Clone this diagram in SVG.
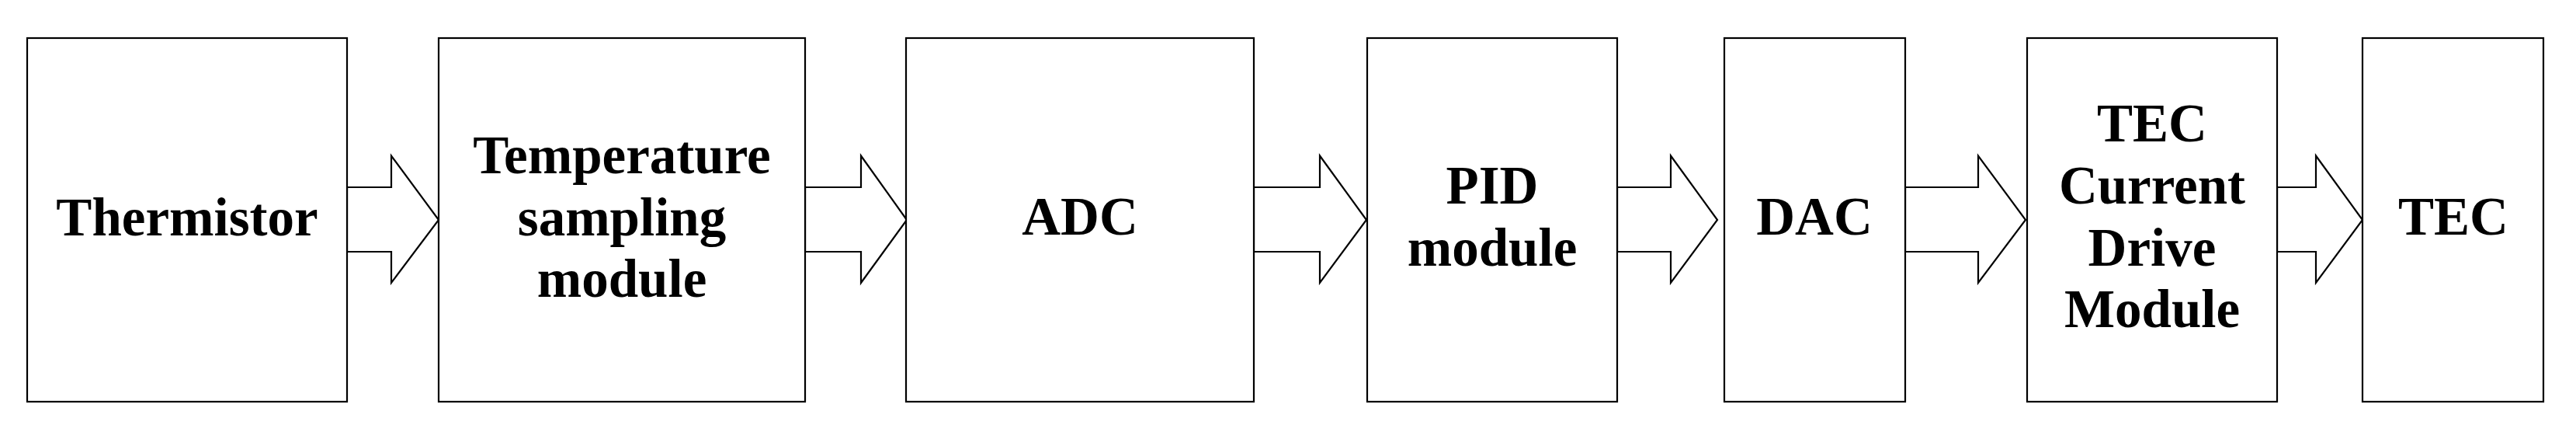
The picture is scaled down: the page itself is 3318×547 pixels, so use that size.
<svg xmlns="http://www.w3.org/2000/svg" width="3318" height="547" viewBox="0 0 3318 547">
<style>
.box{fill:#fff;stroke:#000;stroke-width:2.2}
.arr{fill:#fff;stroke:#000;stroke-width:2.2;stroke-linejoin:miter}
.lbl{font-family:"Liberation Serif","Times New Roman",serif;font-weight:bold;font-size:69px;fill:#000;text-anchor:middle}
</style>
<rect width="3318" height="547" fill="#fff"/>
<g id="connectors">
<polygon class="arr" points="447,241 504,241 504,200.5 565,283 504,364 504,324 447,324"/>
<polygon class="arr" points="1037,241 1109,241 1109,200.5 1168,283 1109,364 1109,324 1037,324"/>
<polygon class="arr" points="1615,241 1700,241 1700,200.5 1760,283 1700,364 1700,324 1615,324"/>
<polygon class="arr" points="2083,241 2152,241 2152,200.5 2212,283 2152,364 2152,324 2083,324"/>
<polygon class="arr" points="2454,241 2548,241 2548,200.5 2609,283 2548,364 2548,324 2454,324"/>
<polygon class="arr" points="2933,241 2983,241 2983,200.5 3043,283 2983,364 2983,324 2933,324"/>
</g>
<g id="thermistor">
<rect class="box" x="35" y="49" width="412" height="468"/>
<text class="lbl" x="241" y="303">Thermistor</text>
</g>
<g id="temperature-sampling">
<rect class="box" x="565" y="49" width="472" height="468"/>
<text class="lbl" x="801" y="223">Temperature</text>
<text class="lbl" x="801" y="303">sampling</text>
<text class="lbl" x="801" y="382">module</text>
</g>
<g id="adc">
<rect class="box" x="1167" y="49" width="448" height="468"/>
<text class="lbl" x="1391" y="302">ADC</text>
</g>
<g id="pid">
<rect class="box" x="1761" y="49" width="322" height="468"/>
<text class="lbl" x="1922" y="262">PID</text>
<text class="lbl" x="1922" y="342">module</text>
</g>
<g id="dac">
<rect class="box" x="2221" y="49" width="233" height="468"/>
<text class="lbl" x="2337" y="302">DAC</text>
</g>
<g id="tec-driver">
<rect class="box" x="2611" y="49" width="322" height="468"/>
<text class="lbl" x="2772" y="182">TEC</text>
<text class="lbl" x="2772" y="262">Current</text>
<text class="lbl" x="2772" y="342">Drive</text>
<text class="lbl" x="2772" y="421">Module</text>
</g>
<g id="tec">
<rect class="box" x="3043" y="49" width="233" height="468"/>
<text class="lbl" x="3160" y="302">TEC</text>
</g>
</svg>
